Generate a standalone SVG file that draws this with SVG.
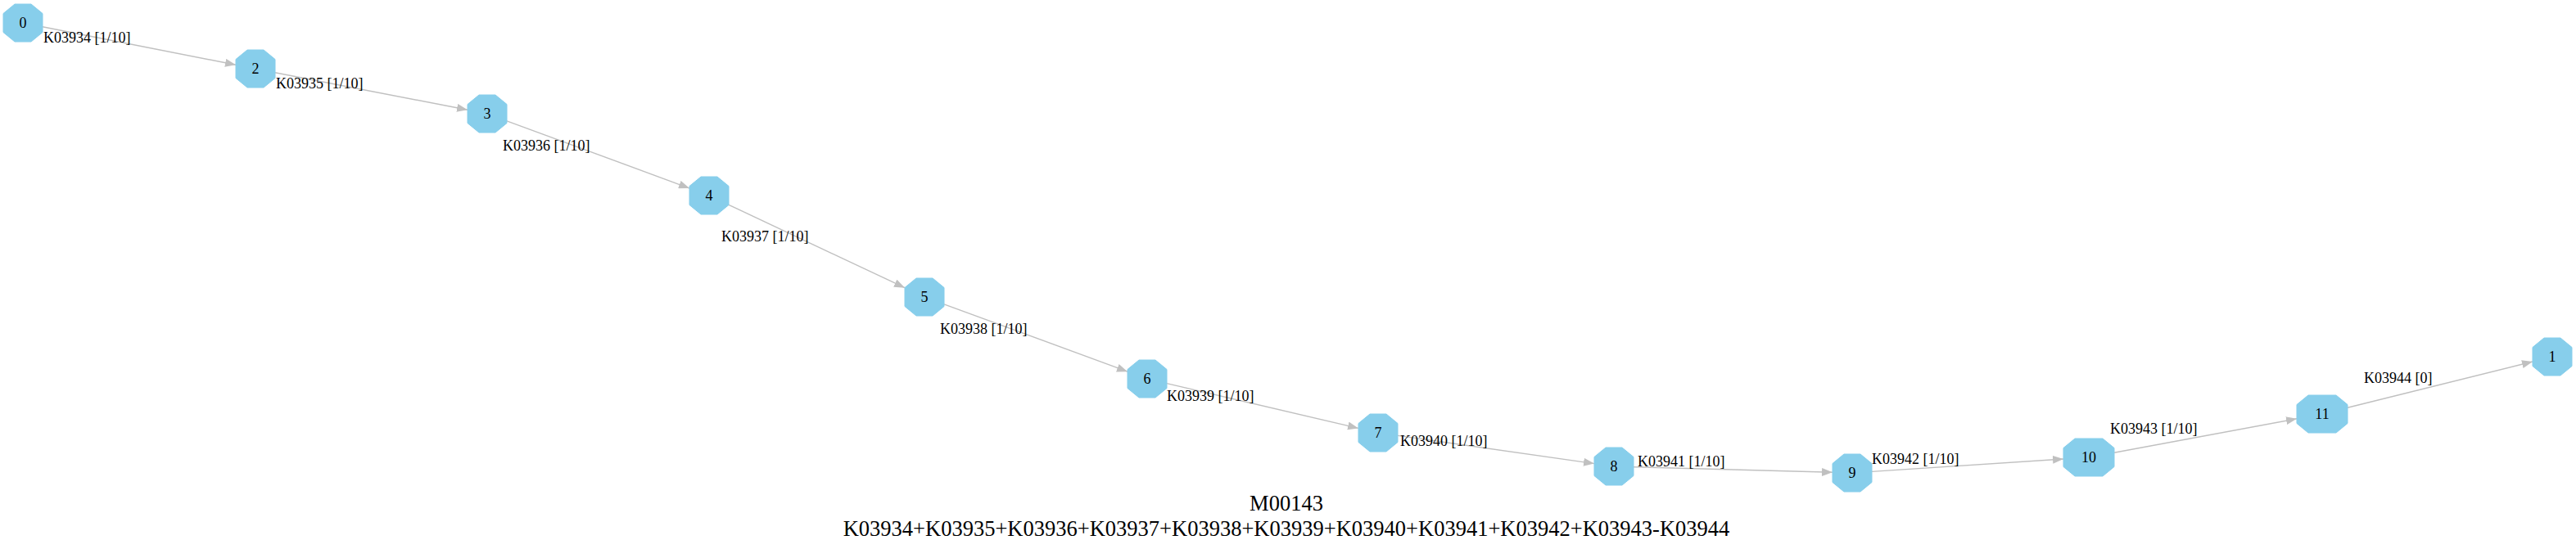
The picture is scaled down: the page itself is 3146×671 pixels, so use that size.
<svg xmlns="http://www.w3.org/2000/svg" width="3146" height="671" viewBox="0 0 3146 671">
<style>
.n use{fill:#87ceeb;stroke:#87ceeb;stroke-width:1}
.n text{font-family:"Liberation Serif","Times New Roman",serif;font-size:18px;text-anchor:middle;fill:#000}
.e line{stroke:#c0c0c0;stroke-width:1.4;fill:none;marker-end:url(#ah)}
.e text{font-family:"Liberation Serif","Times New Roman",serif;font-size:18px;fill:#000}
.t{font-family:"Liberation Serif","Times New Roman",serif;font-size:26.5px;text-anchor:middle;fill:#000}
</style>
<defs>
<marker id="ah" markerUnits="userSpaceOnUse" markerWidth="14" markerHeight="10" refX="13" refY="5" orient="auto">
<path d="M0,0 L13,5 L0,10 z" fill="#c0c0c0"/>
</marker>
<polygon id="o1" points="-10,-23 10,-23 24,-11.5 24,11.5 10,23 -10,23 -24,11.5 -24,-11.5"/>
<polygon id="o2" points="-17,-23 17,-23 31,-11.5 31,11.5 17,23 -17,23 -31,11.5 -31,-11.5"/>
</defs>
<rect width="3146" height="671" fill="#fff"/>
<g id="connectors" class="e">
<line x1="52" y1="32.7" x2="288" y2="79.3"/>
<line x1="336" y1="88.7" x2="571" y2="134.3"/>
<line x1="619" y1="147.9" x2="842" y2="230.1"/>
<line x1="890" y1="250.3" x2="1105" y2="351.7"/>
<line x1="1153" y1="371.8" x2="1377" y2="454.2"/>
<line x1="1425" y1="468.6" x2="1659" y2="523.4"/>
<line x1="1707" y1="532.4" x2="1947" y2="566.6"/>
<line x1="1995" y1="570.7" x2="2238" y2="577.3"/>
<line x1="2286" y1="576.4" x2="2520" y2="561"/>
<line x1="2582" y1="553.2" x2="2805" y2="511.8"/>
<line x1="2867" y1="498.3" x2="3093" y2="442"/>
<text x="53" y="52">K03934 [1/10]</text>
<text x="337" y="108">K03935 [1/10]</text>
<text x="614" y="184">K03936 [1/10]</text>
<text x="881" y="295">K03937 [1/10]</text>
<text x="1148" y="408">K03938 [1/10]</text>
<text x="1425" y="490">K03939 [1/10]</text>
<text x="1710" y="545">K03940 [1/10]</text>
<text x="2000" y="570">K03941 [1/10]</text>
<text x="2286" y="567">K03942 [1/10]</text>
<text x="2577" y="530">K03943 [1/10]</text>
<text x="2887" y="468">K03944 [0]</text>
</g>
<g id="node0" class="n" transform="translate(28,28)"><use href="#o1"/><text y="6">0</text></g>
<g id="node2" class="n" transform="translate(312,84)"><use href="#o1"/><text y="6">2</text></g>
<g id="node3" class="n" transform="translate(595,139)"><use href="#o1"/><text y="6">3</text></g>
<g id="node4" class="n" transform="translate(866,239)"><use href="#o1"/><text y="6">4</text></g>
<g id="node5" class="n" transform="translate(1129,363)"><use href="#o1"/><text y="6">5</text></g>
<g id="node6" class="n" transform="translate(1401,463)"><use href="#o1"/><text y="6">6</text></g>
<g id="node7" class="n" transform="translate(1683,529)"><use href="#o1"/><text y="6">7</text></g>
<g id="node8" class="n" transform="translate(1971,570)"><use href="#o1"/><text y="6">8</text></g>
<g id="node9" class="n" transform="translate(2262,578)"><use href="#o1"/><text y="6">9</text></g>
<g id="node10" class="n" transform="translate(2551,559)"><use href="#o2"/><text y="6">10</text></g>
<g id="node11" class="n" transform="translate(2836,506)"><use href="#o2"/><text y="6">11</text></g>
<g id="node1" class="n" transform="translate(3117,436)"><use href="#o1"/><text y="6">1</text></g>
<g id="title">
<text class="t" x="1571" y="624">M00143</text>
<text class="t" x="1571" y="655">K03934+K03935+K03936+K03937+K03938+K03939+K03940+K03941+K03942+K03943-K03944</text>
</g>
</svg>
